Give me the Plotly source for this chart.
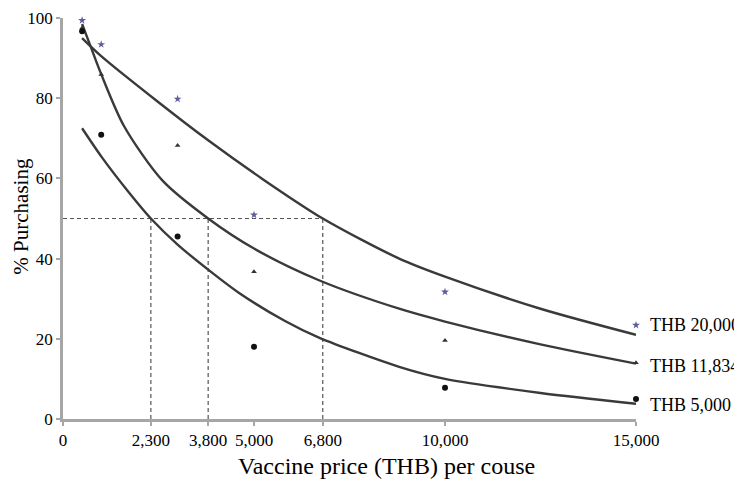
import plotly.graph_objects as go

# Observed data points (price in THB, % purchasing)
price_pts = [500, 1000, 3000, 5000, 10000, 15000]
pts_20000 = [99.4, 93.4, 79.8, 50.9, 31.7, 23.4]
pts_11834 = [97.5, 85.9, 68.2, 36.7, 19.6, 14.0]
pts_5000 = [96.7, 70.9, 45.5, 18.0, 7.8, 5.0]

# Fitted curves
curve_20000_x = [500, 1000, 2500, 3800, 5200, 6800, 8800, 10000, 12500, 15000]
curve_20000_y = [95, 90.5, 79, 69.5, 60, 50, 40, 35.5, 27.5, 21]
curve_11834_x = [500, 700, 1000, 1600, 2600, 3800, 5000, 6700, 8800, 10000, 12500, 15000]
curve_11834_y = [98.5, 93.5, 86, 73, 59.5, 50, 42.5, 34.6, 27.5, 24.3, 18.6, 13.8]
curve_5000_x = [500, 1000, 1700, 2300, 3000, 3900, 4600, 5800, 6700, 8800, 10000, 12500, 15000]
curve_5000_y = [72.5, 65.5, 56.8, 50, 43.5, 36.5, 31.5, 24.5, 20.3, 13, 10, 6.5, 3.8]

# 50% reference prices
ref_prices = [2300, 3800, 6800]
ref_level = 50

x_tickvals = [0, 2300, 3800, 5000, 6800, 10000, 15000]
x_ticktext = ["0", "2,300", "3,800", "5,000", "6,800", "10,000", "15,000"]
y_tickvals = [0, 20, 40, 60, 80, 100]

series_labels = ["THB 20,000", "THB 11,834", "THB 5,000"]
label_y = [23.4, 13.1, 3.4]

FONT = "Liberation Serif, Times New Roman, serif"
LINE = "#3a3a3a"
DASH = "#555555"

fig = go.Figure()

# dashed reference lines
fig.add_trace(go.Scatter(x=[0, max(ref_prices)], y=[ref_level, ref_level], mode="lines",
                         line=dict(color=DASH, width=1.2, dash="4px,3px"),
                         hoverinfo="skip", showlegend=False, cliponaxis=False))
for p in ref_prices:
    fig.add_trace(go.Scatter(x=[p, p], y=[0, ref_level], mode="lines",
                             line=dict(color=DASH, width=1.2, dash="4px,3px"),
                             hoverinfo="skip", showlegend=False, cliponaxis=False))

# curves
for cx, cy in [(curve_20000_x, curve_20000_y), (curve_11834_x, curve_11834_y),
               (curve_5000_x, curve_5000_y)]:
    fig.add_trace(go.Scatter(x=cx, y=cy, mode="lines",
                             line=dict(color=LINE, width=2.4, shape="spline", smoothing=0.8),
                             showlegend=False, cliponaxis=False))

# points
fig.add_trace(go.Scatter(x=price_pts, y=pts_20000, mode="markers",
                         marker=dict(symbol="star", size=6, color="#5c5c9e"),
                         showlegend=False, cliponaxis=False))
fig.add_trace(go.Scatter(x=price_pts, y=pts_11834, mode="markers",
                         marker=dict(symbol="triangle-up", size=5, color="#333333"),
                         showlegend=False, cliponaxis=False))
fig.add_trace(go.Scatter(x=price_pts, y=pts_5000, mode="markers",
                         marker=dict(symbol="circle", size=6, color="#111111"),
                         showlegend=False, cliponaxis=False))

for lab, ly in zip(series_labels, label_y):
    fig.add_annotation(x=max(price_pts), y=ly, xref="x", yref="y", text=lab, showarrow=False,
                       xanchor="left", yanchor="middle", xshift=12,
                       font=dict(family=FONT, size=18, color="black"))

# axis titles
fig.add_annotation(x=0.565, y=-0.117, xref="paper", yref="paper", text="Vaccine price (THB) per couse",
                   showarrow=False, xanchor="center", yanchor="middle",
                   font=dict(family=FONT, size=24, color="black"))
fig.add_annotation(x=-0.073, y=0.505, xref="paper", yref="paper", text="% Purchasing", textangle=-90,
                   showarrow=False, xanchor="center", yanchor="middle",
                   font=dict(family=FONT, size=21, color="black"))

# page body has an 8px margin, so the figure is 8px smaller than the window
fig.update_layout(
    width=734, height=477,
    margin=dict(l=55, r=106, t=10, b=66, autoexpand=False),
    paper_bgcolor="white", plot_bgcolor="white",
    font=dict(family=FONT, size=17, color="black"),
    showlegend=False,
)
fig.update_xaxes(range=[0, 15000], tickvals=x_tickvals, ticktext=x_ticktext, automargin=False,
                 showgrid=False, zeroline=False, showline=True, linecolor="#a6a6a6", linewidth=2.5,
                 ticks="outside", ticklen=4, tickcolor="#a6a6a6", tickwidth=1.5,
                 tickfont=dict(family=FONT, size=17, color="black"))
fig.update_yaxes(range=[0, 100], tickvals=y_tickvals, automargin=False,
                 showgrid=False, zeroline=False, showline=True, linecolor="#a6a6a6", linewidth=2.5,
                 ticks="outside", ticklen=4, tickcolor="#a6a6a6", tickwidth=1.5,
                 tickfont=dict(family=FONT, size=17, color="black"))

fig.write_html("out.html")
